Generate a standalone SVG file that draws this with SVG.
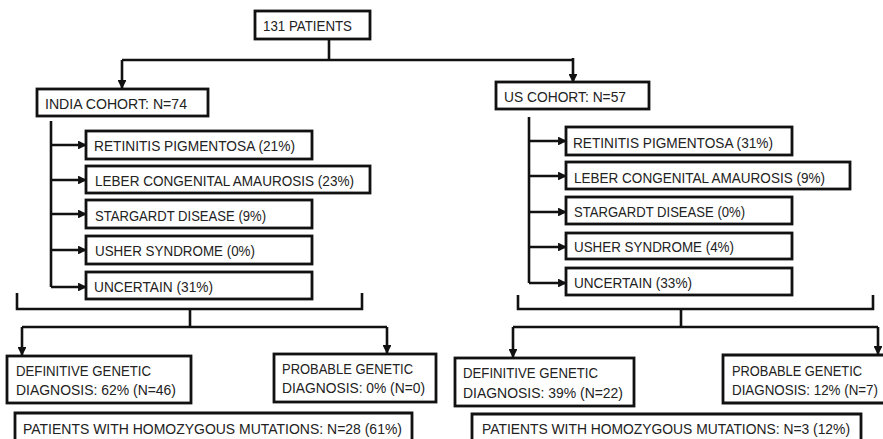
<svg xmlns="http://www.w3.org/2000/svg" width="883" height="439" viewBox="0 0 883 439">
<style>
.box{fill:#fff;stroke:#111;stroke-width:2.8}
.ln{fill:none;stroke:#111;stroke-width:2.6}
.t{font-family:"Liberation Sans",Arial,sans-serif;font-size:15.5px;fill:#222}
.s{font-size:13px}
</style>
<defs>
<marker id="ah" viewBox="0 0 10 10" refX="9" refY="5" markerWidth="3.4" markerHeight="3.4" orient="auto" markerUnits="strokeWidth">
<path d="M0,0 L10,5 L0,10 z" fill="#111"/>
</marker>
</defs>
<g id="connectors">
<path class="ln" d="M329,39 V60"/>
<path class="ln" d="M122,60 H573"/>
<path class="ln" d="M122,60 V88" marker-end="url(#ah)"/>
<path class="ln" d="M573,58 V82" marker-end="url(#ah)"/>
<path class="ln" d="M51,121 V287"/>
<path class="ln" d="M51,145 H86" marker-end="url(#ah)"/>
<path class="ln" d="M51,180 H86" marker-end="url(#ah)"/>
<path class="ln" d="M51,214 H86" marker-end="url(#ah)"/>
<path class="ln" d="M51,250 H86" marker-end="url(#ah)"/>
<path class="ln" d="M51,287 H86" marker-end="url(#ah)"/>
<path class="ln" d="M529,117 V283"/>
<path class="ln" d="M529,141 H566" marker-end="url(#ah)"/>
<path class="ln" d="M529,176 H566" marker-end="url(#ah)"/>
<path class="ln" d="M529,212 H566" marker-end="url(#ah)"/>
<path class="ln" d="M529,247 H566" marker-end="url(#ah)"/>
<path class="ln" d="M529,283 H566" marker-end="url(#ah)"/>
<path class="ln" d="M17,293 V309 H362 V293"/>
<path class="ln" d="M190,309 V327"/>
<path class="ln" d="M22,327 H387"/>
<path class="ln" d="M22,327 V355" marker-end="url(#ah)"/>
<path class="ln" d="M387,327 V353" marker-end="url(#ah)"/>
<path class="ln" d="M518,295 V309 H873 V295"/>
<path class="ln" d="M681,309 V327"/>
<path class="ln" d="M513,327 H878"/>
<path class="ln" d="M513,327 V357" marker-end="url(#ah)"/>
<path class="ln" d="M878,327 V354" marker-end="url(#ah)"/>
</g>
<g id="n-total"><rect class="box" x="255" y="11" width="115" height="28"/><text class="t" x="263" y="31" textLength="89" lengthAdjust="spacingAndGlyphs">131 PATIENTS</text></g>
<g id="n-india"><rect class="box" x="37" y="89" width="171" height="27"/><text class="t" x="45" y="109" textLength="142" lengthAdjust="spacingAndGlyphs">INDIA COHORT: N=74</text></g>
<g id="n-us"><rect class="box" x="496" y="82" width="153" height="27"/><text class="t" x="504" y="102" textLength="122" lengthAdjust="spacingAndGlyphs">US COHORT: N=57</text></g>
<g id="n-in-rp"><rect class="box" x="86" y="131" width="226" height="28"/><text class="t" x="94" y="151" textLength="201" lengthAdjust="spacingAndGlyphs">RETINITIS PIGMENTOSA (21%)</text></g>
<g id="n-in-lca"><rect class="box" x="86" y="166" width="284" height="27"/><text class="t" x="95" y="186" textLength="259" lengthAdjust="spacingAndGlyphs">LEBER CONGENITAL AMAUROSIS (23%)</text></g>
<g id="n-in-sd"><rect class="box" x="86" y="200" width="226" height="28"/><text class="t" x="95" y="221" textLength="171" lengthAdjust="spacingAndGlyphs">STARGARDT DISEASE (9%)</text></g>
<g id="n-in-ush"><rect class="box" x="86" y="236" width="226" height="28"/><text class="t" x="95" y="256" textLength="160" lengthAdjust="spacingAndGlyphs">USHER SYNDROME (0%)</text></g>
<g id="n-in-unc"><rect class="box" x="86" y="272" width="226" height="27"/><text class="t" x="94" y="292" textLength="119" lengthAdjust="spacingAndGlyphs">UNCERTAIN (31%)</text></g>
<g id="n-us-rp"><rect class="box" x="566" y="127" width="226" height="28"/><text class="t" x="573" y="148" textLength="200" lengthAdjust="spacingAndGlyphs">RETINITIS PIGMENTOSA (31%)</text></g>
<g id="n-us-lca"><rect class="box" x="566" y="162" width="284" height="27"/><text class="t" x="574" y="183" textLength="251" lengthAdjust="spacingAndGlyphs">LEBER CONGENITAL AMAUROSIS (9%)</text></g>
<g id="n-us-sd"><rect class="box" x="566" y="197" width="226" height="27"/><text class="t" x="574" y="217" textLength="171" lengthAdjust="spacingAndGlyphs">STARGARDT DISEASE (0%)</text></g>
<g id="n-us-ush"><rect class="box" x="566" y="233" width="226" height="26"/><text class="t" x="574" y="252" textLength="160" lengthAdjust="spacingAndGlyphs">USHER SYNDROME (4%)</text></g>
<g id="n-us-unc"><rect class="box" x="566" y="268" width="226" height="27"/><text class="t" x="574" y="288" textLength="118" lengthAdjust="spacingAndGlyphs">UNCERTAIN (33%)</text></g>
<g id="n-in-def"><rect class="box" x="7" y="356" width="184" height="47"/><text class="t" x="16" y="376" textLength="135" lengthAdjust="spacingAndGlyphs">DEFINITIVE GENETIC</text><text class="t" x="16" y="395" textLength="160" lengthAdjust="spacingAndGlyphs">DIAGNOSIS: 62% (N=46)</text></g>
<g id="n-in-prob"><rect class="box" x="274" y="354" width="162" height="48"/><text class="t" x="282" y="374" textLength="131" lengthAdjust="spacingAndGlyphs">PROBABLE GENETIC</text><text class="t" x="282" y="393" textLength="143" lengthAdjust="spacingAndGlyphs">DIAGNOSIS: 0% (N=0)</text></g>
<g id="n-in-hom"><path class="box" d="M15,439 V413 H412 V439"/><text class="t" x="23" y="434" textLength="379" lengthAdjust="spacingAndGlyphs">PATIENTS WITH HOMOZYGOUS MUTATIONS: N=28 (61%)</text></g>
<g id="n-us-def"><rect class="box" x="455" y="358" width="179" height="48"/><text class="t" x="463" y="378" textLength="135" lengthAdjust="spacingAndGlyphs">DEFINITIVE GENETIC</text><text class="t" x="463" y="398" textLength="160" lengthAdjust="spacingAndGlyphs">DIAGNOSIS: 39% (N=22)</text></g>
<g id="n-us-prob"><path class="box" d="M883,355 H723 V403 H883"/><text class="t s" transform="translate(732,376) scale(1,1.19)" textLength="130" lengthAdjust="spacingAndGlyphs">PROBABLE GENETIC</text><text class="t s" transform="translate(732,395) scale(1,1.19)" textLength="146" lengthAdjust="spacingAndGlyphs">DIAGNOSIS: 12% (N=7)</text></g>
<g id="n-us-hom"><path class="box" d="M472,439 V414 H861 V439"/><text class="t s" transform="translate(482,434) scale(1,1.19)" textLength="368" lengthAdjust="spacingAndGlyphs">PATIENTS WITH HOMOZYGOUS MUTATIONS: N=3 (12%)</text></g>
</svg>
